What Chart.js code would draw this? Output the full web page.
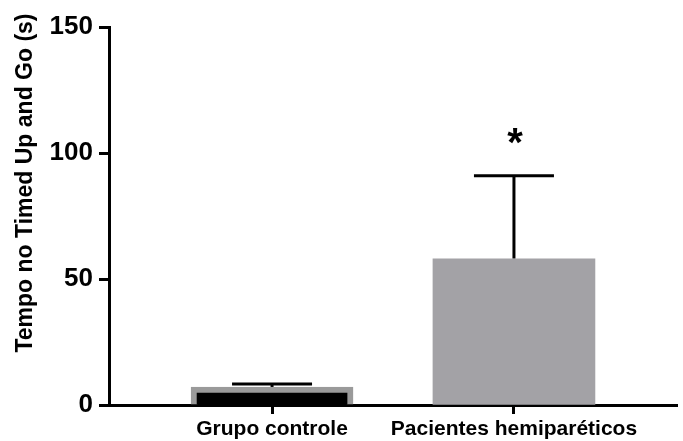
<!DOCTYPE html>
<html>
<head>
<meta charset="utf-8">
<script src="https://cdn.jsdelivr.net/npm/chart.js@4"></script>
<style>
  html, body { margin: 0; padding: 0; background: #fff; }
  #wrap { width: 683px; height: 441px; }
</style>
</head>
<body>
<div id="wrap"><canvas id="chart" width="683" height="441"></canvas></div>
<script>
const categories = ["Grupo controle", "Pacientes hemiparéticos"];
const positions = [1, 2];
const means = [7.1, 58];
const sds = [1.2, 33];
const significant = [false, true];
const yTicks = [0, 50, 100, 150];
const yTitle = "Tempo no Timed Up and Go (s)";

const FONT = "'Liberation Sans', Arial, sans-serif";

// error bars (upper only, drawn under the bars) and the significance mark
const errorBars = {
  id: "errorBars",
  beforeDatasetsDraw(chart) {
    const { ctx, scales: { x, y } } = chart;
    ctx.save();
    ctx.strokeStyle = "#000";
    ctx.lineWidth = 3;
    positions.forEach((pos, i) => {
      const px = x.getPixelForValue(pos);
      const top = y.getPixelForValue(means[i] + sds[i]);
      const base = y.getPixelForValue(means[i]);
      ctx.beginPath();
      ctx.moveTo(px, base);
      ctx.lineTo(px, top);
      ctx.moveTo(px - 40, top);
      ctx.lineTo(px + 40, top);
      ctx.stroke();
    });
    ctx.restore();
  },
  afterDraw(chart) {
    const { ctx, scales: { x, y } } = chart;
    ctx.save();
    ctx.fillStyle = "#000";
    positions.forEach((pos, i) => {
      if (!significant[i]) return;
      const px = x.getPixelForValue(pos);
      const top = y.getPixelForValue(means[i] + sds[i]);
      ctx.font = "bold 40px " + FONT;
      ctx.textAlign = "center";
      ctx.textBaseline = "middle";
      ctx.fillText("*", px + 1, top - 31);
    });
    ctx.translate(32, 183);
    ctx.rotate(-Math.PI / 2);
    ctx.font = "bold 23px " + FONT;
    ctx.textAlign = "center";
    ctx.textBaseline = "alphabetic";
    ctx.fillText(yTitle, 0, 0);
    ctx.restore();
  },
};

new Chart(document.getElementById("chart"), {
  type: "bar",
  data: {
    datasets: [
      {
        data: positions.map((pos, i) => ({ x: pos, y: means[i] })),
        backgroundColor: ["#000000", "#a3a2a6"],
        borderColor: ["#9a9a9a", "#a3a2a6"],
        borderWidth: [6, 0],
        borderSkipped: "start",
        barThickness: 162,
      },
    ],
  },
  options: {
    responsive: false,
    animation: false,
    layout: { padding: { top: 27, right: 6, left: 0, bottom: 0 } },
    plugins: { legend: { display: false }, tooltip: { enabled: false } },
    scales: {
      x: {
        type: "linear",
        min: 0.326,
        max: 2.674,
        offset: false,
        afterBuildTicks: (scale) => {
          scale.ticks = positions.map((v) => ({ value: v }));
        },
        afterFit: (scale) => {
          scale.height = 36;
        },
        ticks: {
          callback: (v) => categories[positions.indexOf(v)] ?? "",
          color: "#000",
          font: { family: FONT, size: 21, weight: "bold" },
          padding: 3,
          maxRotation: 0,
          autoSkip: false,
        },
        grid: { offset: false, drawOnChartArea: false, tickLength: 9, tickWidth: 3, tickColor: "#000" },
        border: { color: "#000", width: 3 },
      },
      y: {
        min: 0,
        max: 150,
        afterBuildTicks: (scale) => {
          scale.ticks = yTicks.map((v) => ({ value: v }));
        },
        afterFit: (scale) => {
          scale.width = 109;
        },
        ticks: {
          color: "#000",
          font: { family: FONT, size: 26, weight: "bold" },
          padding: 6,
        },
        grid: { drawOnChartArea: false, tickLength: 10, tickWidth: 3, tickColor: "#000" },
        border: { color: "#000", width: 3 },
      },
    },
  },
  plugins: [errorBars],
});
</script>
</body>
</html>
